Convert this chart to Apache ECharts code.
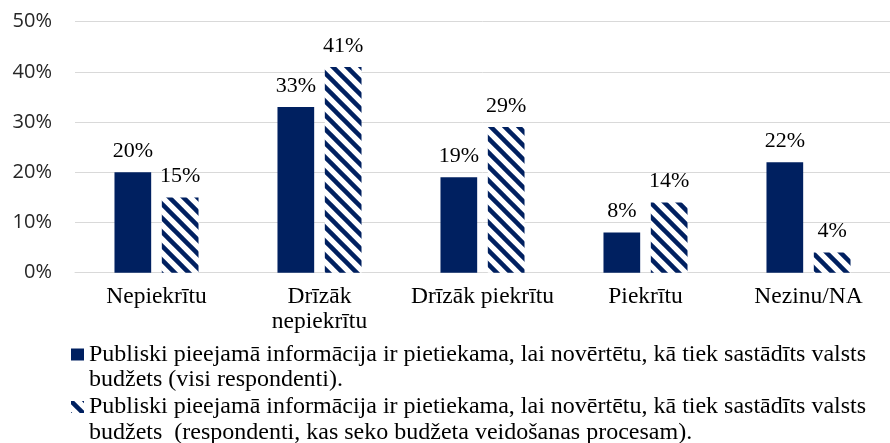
<!DOCTYPE html>
<html>
<head>
<meta charset="utf-8">
<script src="https://cdn.jsdelivr.net/npm/echarts@6/dist/echarts.min.js"></script>
<style>
html,body{margin:0;padding:0;background:#fff;}
#chart{width:890px;height:443px;}
</style>
</head>
<body>
<div id="chart"></div>
<script>
const categories = ['Nepiekrītu', 'Drīzāk nepiekrītu', 'Drīzāk piekrītu', 'Piekrītu', 'Nezinu/NA'];
const seriesNames = [
  'Publiski pieejamā informācija ir pietiekama, lai novērtētu, kā tiek sastādīts valsts budžets (visi respondenti).',
  'Publiski pieejamā informācija ir pietiekama, lai novērtētu, kā tiek sastādīts valsts budžets  (respondenti, kas seko budžeta veidošanas procesam).'
];
const allRespondents = [20, 33, 19, 8, 22];
const followers = [15, 41, 29, 14, 4];
const yTicks = { min: 0, max: 50, interval: 10 };

const NAVY = '#002060';

function makeHatch() {
  const s = 14;
  const c = document.createElement('canvas');
  c.width = s; c.height = s;
  const g = c.getContext('2d');
  g.fillStyle = '#ffffff';
  g.fillRect(0, 0, s, s);
  g.strokeStyle = NAVY;
  g.lineWidth = 4.5;
  for (let k = -1; k <= 1; k++) {
    g.beginPath();
    g.moveTo(k * s - 2, -2);
    g.lineTo(k * s + s + 2, s + 2);
    g.stroke();
  }
  return c;
}
const hatch = { image: makeHatch(), repeat: 'repeat' };

const serif = '"Liberation Serif", "Times New Roman", serif';

function legendFor(name, top) {
  return {
    orient: 'vertical',
    left: 66,
    top: top,
    itemWidth: 13,
    itemHeight: 12,
    icon: 'rect',
    formatter: function (n) { return '\n' + n.replace(/ budžets/, '\nbudžets'); },
    textStyle: {
      fontFamily: serif,
      fontSize: 24,
      lineHeight: 25.5,
      color: '#000'
    },
    data: [name]
  };
}

const chart = echarts.init(document.getElementById('chart'), null, { renderer: 'canvas' });
chart.setOption({
  animation: false,
  backgroundColor: '#ffffff',
  grid: { left: 75, width: 825.5, top: 21.7, height: 251 },
  xAxis: {
    type: 'category',
    data: categories,
    axisLine: { show: true, lineStyle: { color: '#d9d9d9', width: 1 } },
    axisTick: { show: false },
    axisLabel: {
      interval: 0,
      margin: 12,
      fontFamily: serif,
      fontSize: 23.5,
      lineHeight: 25,
      color: '#000',
      formatter: function (v) { return v.length > 16 ? v.replace(' ', '\n') : v; }
    }
  },
  yAxis: {
    type: 'value',
    min: yTicks.min, max: yTicks.max, interval: yTicks.interval,
    axisLabel: {
      formatter: '{value}%',
      fontFamily: '"Open Sans", sans-serif',
      fontSize: 20,
      color: '#262626',
      margin: 23
    },
    axisLine: { show: false },
    axisTick: { show: false },
    splitLine: { lineStyle: { color: '#d9d9d9', width: 1 } }
  },
  legend: [legendFor(seriesNames[0], 311.25), legendFor(seriesNames[1], 363.75)],
  series: [
    {
      name: seriesNames[0],
      type: 'bar',
      data: allRespondents,
      barWidth: 36.7,
      barGap: '29%',
      itemStyle: { color: NAVY },
      label: {
        show: true, position: 'top', distance: 10,
        formatter: '{c}%',
        fontFamily: serif, fontSize: 22, color: '#000'
      }
    },
    {
      name: seriesNames[1],
      type: 'bar',
      data: followers,
      barWidth: 36.7,
      barGap: '29%',
      itemStyle: { color: hatch },
      label: {
        show: true, position: 'top', distance: 10,
        formatter: '{c}%',
        fontFamily: serif, fontSize: 22, color: '#000'
      }
    }
  ]
});
</script>
</body>
</html>
